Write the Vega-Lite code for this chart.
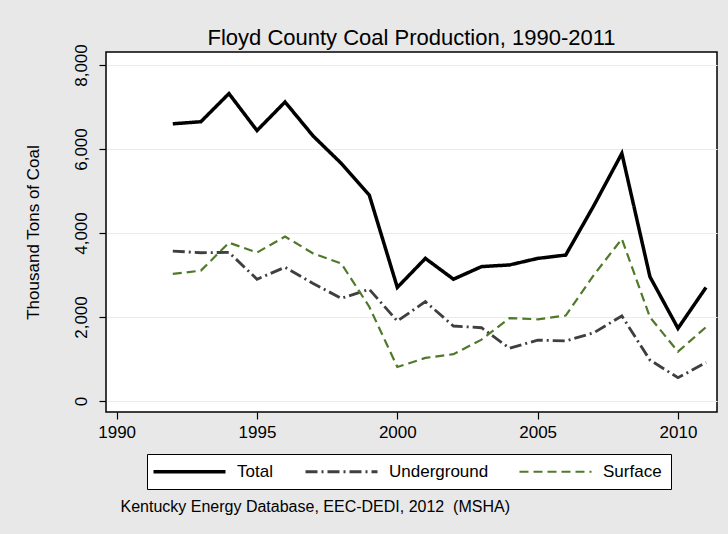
{
  "$schema": "https://vega.github.io/schema/vega-lite/v6.json",
  "width": 611,
  "height": 360,
  "autosize": "none",
  "padding": {"left": 106, "top": 52, "right": 11, "bottom": 122},
  "background": "#e8e8e8",
  "title": {
    "text": "Floyd County Coal Production, 1990-2011",
    "frame": "group",
    "anchor": "middle",
    "offset": -6,
    "fontSize": 22,
    "fontWeight": "normal",
    "font": "Liberation Sans",
    "color": "#000000"
  },
  "data": {
    "values": [
      {"year": 1992, "series": "Total", "value": 6600},
      {"year": 1993, "series": "Total", "value": 6650},
      {"year": 1994, "series": "Total", "value": 7320},
      {"year": 1995, "series": "Total", "value": 6440},
      {"year": 1996, "series": "Total", "value": 7120},
      {"year": 1997, "series": "Total", "value": 6310},
      {"year": 1998, "series": "Total", "value": 5660},
      {"year": 1999, "series": "Total", "value": 4905},
      {"year": 2000, "series": "Total", "value": 2705},
      {"year": 2001, "series": "Total", "value": 3395},
      {"year": 2002, "series": "Total", "value": 2900},
      {"year": 2003, "series": "Total", "value": 3200},
      {"year": 2004, "series": "Total", "value": 3240},
      {"year": 2005, "series": "Total", "value": 3395},
      {"year": 2006, "series": "Total", "value": 3475},
      {"year": 2007, "series": "Total", "value": 4650},
      {"year": 2008, "series": "Total", "value": 5895},
      {"year": 2009, "series": "Total", "value": 2960},
      {"year": 2010, "series": "Total", "value": 1730},
      {"year": 2011, "series": "Total", "value": 2705},
      {"year": 1992, "series": "Underground", "value": 3570},
      {"year": 1993, "series": "Underground", "value": 3530},
      {"year": 1994, "series": "Underground", "value": 3540},
      {"year": 1995, "series": "Underground", "value": 2900},
      {"year": 1996, "series": "Underground", "value": 3185},
      {"year": 1997, "series": "Underground", "value": 2800},
      {"year": 1998, "series": "Underground", "value": 2445},
      {"year": 1999, "series": "Underground", "value": 2660},
      {"year": 2000, "series": "Underground", "value": 1905},
      {"year": 2001, "series": "Underground", "value": 2365},
      {"year": 2002, "series": "Underground", "value": 1785},
      {"year": 2003, "series": "Underground", "value": 1745},
      {"year": 2004, "series": "Underground", "value": 1255},
      {"year": 2005, "series": "Underground", "value": 1450},
      {"year": 2006, "series": "Underground", "value": 1430},
      {"year": 2007, "series": "Underground", "value": 1625},
      {"year": 2008, "series": "Underground", "value": 2025},
      {"year": 2009, "series": "Underground", "value": 975},
      {"year": 2010, "series": "Underground", "value": 555},
      {"year": 2011, "series": "Underground", "value": 915},
      {"year": 1992, "series": "Surface", "value": 3025},
      {"year": 1993, "series": "Surface", "value": 3105},
      {"year": 1994, "series": "Surface", "value": 3770},
      {"year": 1995, "series": "Surface", "value": 3535},
      {"year": 1996, "series": "Surface", "value": 3915},
      {"year": 1997, "series": "Surface", "value": 3515},
      {"year": 1998, "series": "Surface", "value": 3275},
      {"year": 1999, "series": "Surface", "value": 2245},
      {"year": 2000, "series": "Surface", "value": 810},
      {"year": 2001, "series": "Surface", "value": 1025},
      {"year": 2002, "series": "Surface", "value": 1115},
      {"year": 2003, "series": "Surface", "value": 1460},
      {"year": 2004, "series": "Surface", "value": 1975},
      {"year": 2005, "series": "Surface", "value": 1945},
      {"year": 2006, "series": "Surface", "value": 2035},
      {"year": 2007, "series": "Surface", "value": 3000},
      {"year": 2008, "series": "Surface", "value": 3860},
      {"year": 2009, "series": "Surface", "value": 1995},
      {"year": 2010, "series": "Surface", "value": 1175},
      {"year": 2011, "series": "Surface", "value": 1760}
    ]
  },
  "mark": {"type": "line", "strokeJoin": "miter"},
  "encoding": {
    "x": {
      "field": "year",
      "type": "quantitative",
      "scale": {"domain": [1989.62, 2011.39], "nice": false, "zero": false},
      "axis": {
        "values": [1990, 1995, 2000, 2005, 2010],
        "format": "d",
        "grid": false,
        "title": "Kentucky Energy Database, EEC-DEDI, 2012\u00a0 (MSHA)",
        "titleAnchor": "start",
        "titleAlign": "left",
        "titleBaseline": "alphabetic",
        "titleX": 14,
        "titleY": 99,
        "titleFontSize": 16
      }
    },
    "y": {
      "field": "value",
      "type": "quantitative",
      "scale": {"domain": [-262, 8310], "nice": false, "zero": false},
      "axis": {
        "values": [0, 2000, 4000, 6000, 8000],
        "format": ",d",
        "grid": true,
        "labelAngle": -90,
        "labelAlign": "center",
        "labelBaseline": "alphabetic",
        "labelPadding": 13,
        "title": "Thousand Tons of Coal",
        "titlePadding": 30,
        "titleFontSize": 17
      }
    },
    "color": {
      "field": "series",
      "type": "nominal",
      "scale": {"domain": ["Total", "Underground", "Surface"], "range": ["#000000", "#3f3f3f", "#50792a"]},
      "legend": {
        "title": null,
        "orient": "none",
        "legendX": 41,
        "legendY": 402,
        "direction": "horizontal",
        "columns": 3,
        "symbolType": "M-7.2,0H7.2",
        "symbolSize": 100,
        "symbolOffset": 25,
        "labelOffset": 39,
        "padding": 9,
        "columnPadding": 26,
        "strokeColor": "#000000",
        "fillColor": "#ffffff",
        "labelFontSize": 17,
        "labelColor": "#000000",
        "labelFont": "Liberation Sans"
      }
    },
    "strokeDash": {
      "field": "series",
      "type": "nominal",
      "scale": {"domain": ["Total", "Underground", "Surface"], "range": [[1, 0], [12, 4, 2, 4], [9, 5]]}
    },
    "strokeWidth": {
      "field": "series",
      "type": "nominal",
      "scale": {"domain": ["Total", "Underground", "Surface"], "range": [3.5, 2.2, 2.2]}
    }
  },
  "config": {
    "view": {"stroke": "#000000", "strokeWidth": 1.5, "fill": "#ffffff"},
    "axis": {
      "domain": false,
      "ticks": true,
      "tickColor": "#000000",
      "tickWidth": 1.2,
      "tickSize": 7,
      "labelFont": "Liberation Sans",
      "labelFontSize": 17,
      "labelColor": "#000000",
      "labelPadding": 5,
      "titleFont": "Liberation Sans",
      "titleFontWeight": "normal",
      "titleColor": "#000000",
      "gridColor": "#e4edef",
      "gridWidth": 1.2
    }
  }
}
